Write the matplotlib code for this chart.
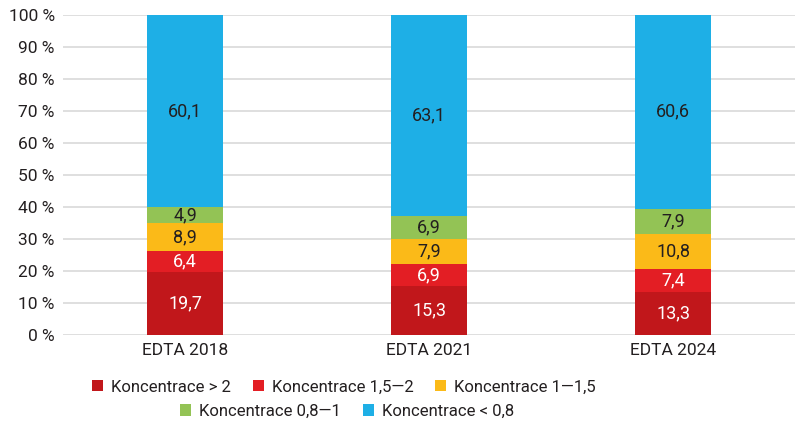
import matplotlib.pyplot as plt
import numpy as np
from matplotlib.patches import Patch

plt.rcParams['font.family'] = ['Roboto', 'DejaVu Sans']

categories = ['EDTA 2018', 'EDTA 2021', 'EDTA 2024']
series_names = ['Koncentrace > 2', 'Koncentrace 1,5—2', 'Koncentrace 1—1,5',
                'Koncentrace 0,8—1', 'Koncentrace < 0,8']
gt2 = [19.7, 15.3, 13.3]
c15_2 = [6.4, 6.9, 7.4]
c1_15 = [8.9, 7.9, 10.8]
c08_1 = [4.9, 6.9, 7.9]
lt08 = [60.1, 63.1, 60.6]

colors = ['#C1171B', '#E31E24', '#FBBA18', '#93C355', '#1EAFE6']
text_colors = ['white', 'white', '#231F20', '#231F20', '#231F20']

fig = plt.figure(figsize=(8, 4.25), dpi=100)
ax = fig.add_axes([0.079, 0.212, 0.915, 0.753])

x = np.arange(len(categories))
bottom = np.zeros(len(categories))
for vals, col, tcol in zip([gt2, c15_2, c1_15, c08_1, lt08], colors, text_colors):
    vals = np.array(vals)
    ax.bar(x, vals, 0.31, bottom=bottom, color=col, zorder=3)
    for xi, b, v in zip(x, bottom, vals):
        top = min(b + v, 100)
        ax.text(xi, (b + top) / 2, f'{v:.1f}'.replace('.', ','), ha='center', va='center',
                color=tcol, fontsize=13, zorder=4)
    bottom += vals

ax.set_xlim(-0.5, 2.5)
ax.set_ylim(0, 100)
ax.set_yticks(range(0, 101, 10))
ax.set_yticklabels([f'{v} %' for v in range(0, 101, 10)])
ax.set_xticks(x)
ax.set_xticklabels(categories)
ax.tick_params(axis='both', length=0, labelsize=12.5, colors='#231F20')
ax.tick_params(axis='y', pad=6)
ax.tick_params(axis='x', pad=6)
ax.grid(axis='y', color='#D9D9D9', linewidth=1.2, zorder=0)
for s in ax.spines.values():
    s.set_visible(False)

handles = [Patch(facecolor=c) for c in colors]
leg_kw = dict(loc='center', frameon=False, fontsize=12, handlelength=0.65, handleheight=0.65,
              columnspacing=1.3, handletextpad=0.5, labelcolor='#231F20')
fig.legend(handles[:3], series_names[:3], bbox_to_anchor=(0.43, 0.089), ncol=3, **leg_kw)
fig.legend(handles[3:], series_names[3:], bbox_to_anchor=(0.434, 0.032), ncol=2, **leg_kw)

fig.savefig('out.png', dpi=100)
